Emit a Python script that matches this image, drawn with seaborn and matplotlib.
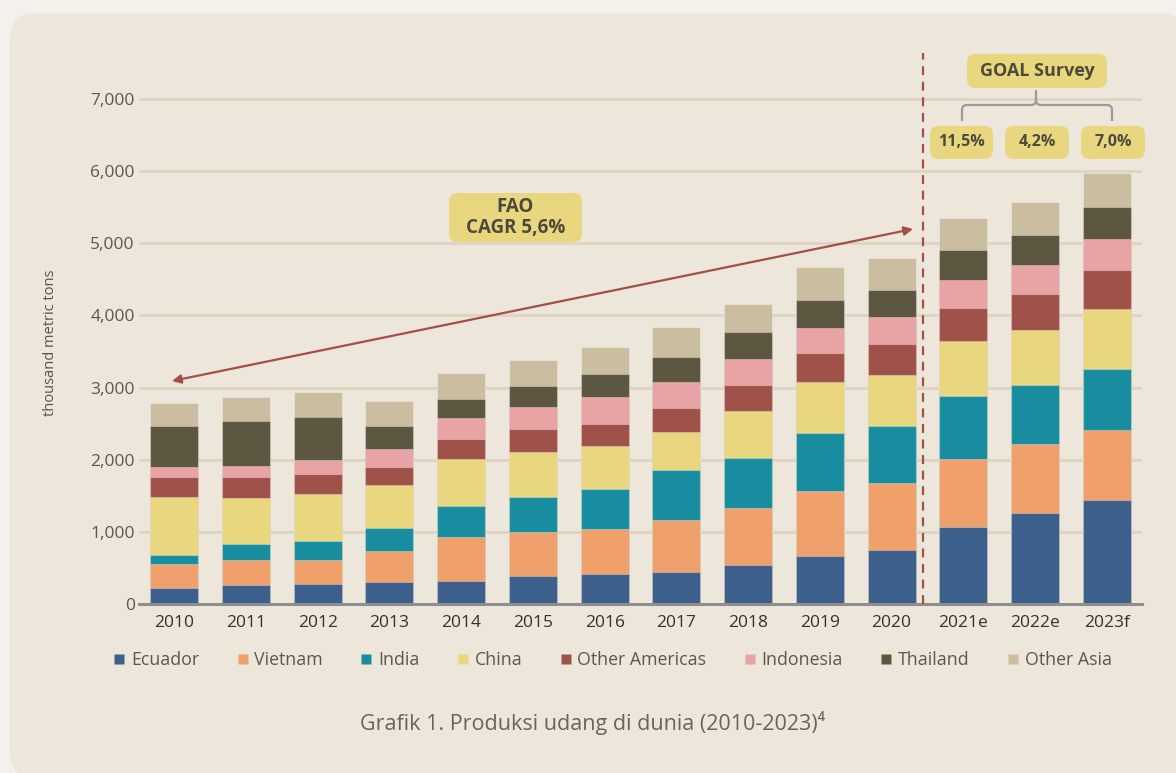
import numpy as np
import matplotlib
matplotlib.use("Agg")
import matplotlib.pyplot as plt
import seaborn as sns
from matplotlib.patches import FancyBboxPatch, PathPatch
from matplotlib.path import Path
from matplotlib.lines import Line2D

sns.set_style("white")
plt.rcParams['font.family'] = ['Open Sans', 'DejaVu Sans']

# ---------------- data (thousand metric tons) ----------------
years = ["2010", "2011", "2012", "2013", "2014", "2015", "2016", "2017",
         "2018", "2019", "2020", "2021e", "2022e", "2023f"]
series_names = ["Ecuador", "Vietnam", "India", "China", "Other Americas",
                "Indonesia", "Thailand", "Other Asia"]
ecuador = [220, 258, 282, 301, 323, 393, 411, 448, 545, 670, 748, 1066, 1260, 1445]
vietnam = [334, 353, 324, 434, 610, 609, 633, 711, 781, 896, 933, 947, 953, 963]
india = [129, 215, 263, 320, 420, 485, 550, 698, 697, 804, 781, 871, 825, 850]
china = [806, 649, 649, 597, 652, 624, 600, 526, 651, 702, 716, 764, 763, 835]
other_americas = [268, 286, 286, 248, 286, 319, 296, 328, 356, 406, 420, 450, 497, 538]
indonesia = [143, 158, 186, 243, 282, 300, 374, 361, 365, 342, 374, 390, 395, 425]
thailand = [563, 611, 607, 320, 272, 291, 323, 355, 374, 397, 384, 415, 415, 446]
other_asia = [325, 344, 348, 344, 356, 360, 379, 407, 388, 450, 444, 450, 471, 471]
growth_labels = ["11,5%", "4,2%", "7,0%"]
y_ticks = [0, 1000, 2000, 3000, 4000, 5000, 6000, 7000]

colors = ["#3d5f8c", "#f0a16b", "#188da0", "#e8d77f", "#a0524a",
          "#e8a3a5", "#5d5741", "#cbbd9f"]

# ---------------- figure ----------------
W, H = 1176, 773
fig = plt.figure(figsize=(W / 100, H / 100), dpi=100, facecolor="#f4f1ec")
panel = FancyBboxPatch((0.10, -0.05), 11.75, 7.65,
                       boxstyle="round,pad=0,rounding_size=0.26",
                       transform=fig.dpi_scale_trans, fc="#ece6db", ec="none", zorder=0)
fig.add_artist(panel)

Y_MAX = 7700
ax_left, ax_right, ax_bottom, ax_top = 139, 1142, 604, 48.5
ax = fig.add_axes([ax_left / W, (H - ax_bottom) / H,
                   (ax_right - ax_left) / W, (ax_bottom - ax_top) / H])
ax.set_facecolor("none")

XMIN, XMAX = -0.49, 13.49


def px2x(px):
    return XMIN + (px - ax_left) / (ax_right - ax_left) * (XMAX - XMIN)


def px2y(py):
    return (ax_bottom - py) / (ax_bottom - ax_top) * Y_MAX


series = [ecuador, vietnam, india, china, other_americas, indonesia, thailand, other_asia]
cum = np.cumsum(np.array(series), axis=0)
for i in reversed(range(len(series))):
    sns.barplot(x=years, y=cum[i], color=colors[i], width=0.67, saturation=1,
                edgecolor=(1, 1, 1, 0.3), linewidth=0.8, ax=ax, zorder=2)

ax.set_xlim(XMIN, XMAX)
ax.set_ylim(0, Y_MAX)
ax.set_xlabel("")
ax.set_ylabel("")
ax.set_yticks(y_ticks)
ax.set_yticklabels([f"{v:,}" for v in y_ticks])
ax.grid(axis="y", color="#ddd4c1", lw=2)
ax.grid(axis="x", visible=False)
ax.set_axisbelow(True)
for s in ["left", "top", "right"]:
    ax.spines[s].set_visible(False)
ax.spines["bottom"].set_color("#8e8e8e")
ax.spines["bottom"].set_linewidth(2.2)
ax.spines["bottom"].set_zorder(3)
ax.tick_params(axis="x", length=0, pad=8, labelsize=12.5, labelcolor="#35322b")
ax.tick_params(axis="y", length=0, pad=3, labelsize=12.5, labelcolor="#5e5848")

# y label
fig.text(51 / W, (H - 343) / H, "thousand metric tons", rotation=90, ha="center",
         va="center", fontsize=10.5, color="#5a5446")

# dashed divider
ax.plot([10.44, 10.44], [0, px2y(53)], ls=(0, (4, 3)), color="#a34f47", lw=1.6,
        clip_on=False, zorder=4)

# FAO arrow
ax.annotate("", xy=(px2x(913), px2y(229)), xytext=(px2x(172), px2y(381)),
            arrowprops=dict(arrowstyle="<|-|>", color="#a34f47", lw=1.6,
                            mutation_scale=13, shrinkA=0, shrinkB=0), zorder=4)

aspect = (Y_MAX / (ax_bottom - ax_top)) / ((XMAX - XMIN) / (ax_right - ax_left))


def yellow_box(x0, y0, x1, y1, text, fs):
    bx, by = px2x(x0), px2y(y1)
    bw, bh = px2x(x1) - bx, px2y(y0) - by
    p = FancyBboxPatch((bx, by), bw, bh, boxstyle="round,pad=0,rounding_size=0.12",
                       mutation_aspect=aspect, fc="#e8d77f", ec="none",
                       clip_on=False, zorder=5)
    ax.add_patch(p)
    ax.text(bx + bw / 2, by + bh / 2, text, ha="center", va="center", fontsize=fs,
            fontweight="bold", color="#4e4a3b", zorder=6, linespacing=1.1,
            clip_on=False)


yellow_box(449, 193, 582, 242, "FAO\nCAGR 5,6%", 13.5)
yellow_box(967, 54, 1107, 88, "GOAL Survey", 13)
for (x0, x1), lab in zip([(930, 993), (1005, 1069), (1081, 1145)], growth_labels):
    yellow_box(x0, 126, x1, 159, lab, 11.5)

# bracket
pts_px = [((962, 121), Path.MOVETO), ((962, 110), Path.LINETO),
          ((962, 105), Path.CURVE3), ((967, 105), Path.CURVE3),
          ((1031, 105), Path.LINETO), ((1036, 105), Path.CURVE3),
          ((1036, 100), Path.CURVE3), ((1036, 90), Path.LINETO),
          ((1036, 100), Path.MOVETO), ((1036, 105), Path.CURVE3),
          ((1041, 105), Path.CURVE3), ((1107, 105), Path.LINETO),
          ((1112, 105), Path.CURVE3), ((1112, 110), Path.CURVE3),
          ((1112, 121), Path.LINETO)]
verts = [(px2x(p[0]), px2y(p[1])) for p, _ in pts_px]
codes = [c for _, c in pts_px]
ax.add_patch(PathPatch(Path(verts, codes), fc="none", ec="#9c9c9c", lw=1.6,
                       clip_on=False, zorder=5))

# legend
handles = [Line2D([], [], marker="s", ls="none", markersize=7.5,
                  markerfacecolor=c, markeredgecolor="none") for c in colors]
fig.legend(handles, series_names, loc="center", bbox_to_anchor=(612 / W, (H - 660) / H),
           ncol=8, frameon=False, fontsize=12.8, handletextpad=0.25,
           columnspacing=2.05, handlelength=0.8, labelcolor="#5e5848")

fig.text(593 / W, (H - 723) / H, "Grafik 1. Produksi udang di dunia (2010-2023)⁴",
         ha="center", va="center", fontsize=15.5, color="#6b6558")

fig.savefig("out.png", dpi=100, facecolor=fig.get_facecolor())
